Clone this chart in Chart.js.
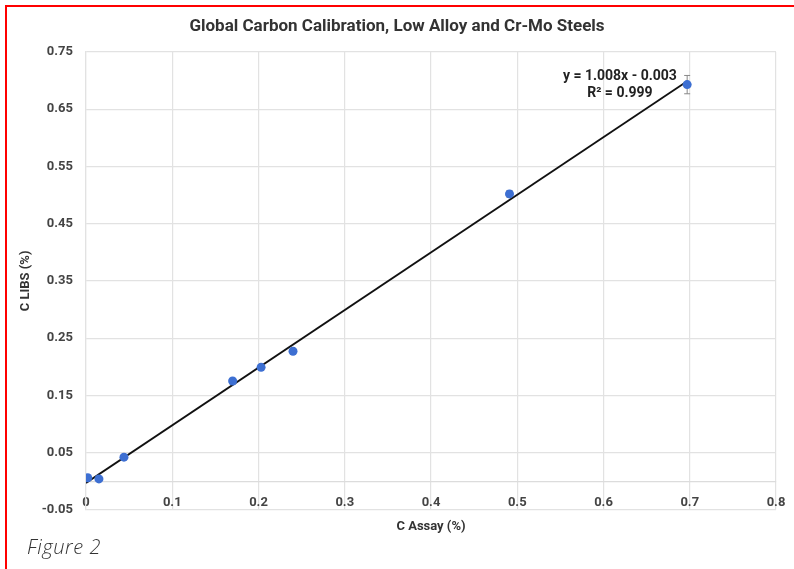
<!DOCTYPE html>
<html>
<head>
<meta charset="utf-8">
<script src="https://cdn.jsdelivr.net/npm/chart.js@4/dist/chart.umd.min.js"></script>
<style>
  html, body { margin: 0; padding: 0; background: #fff; width: 794px; height: 569px; overflow: hidden; }
  #frame { position: absolute; left: 5px; top: 5px; right: 0; bottom: -10px; border-left: 2px solid #ff0000; border-top: 2px solid #ff0000; }
  #wrap { position: absolute; left: 0; top: 0; width: 794px; height: 545px; }
  #caption { position: absolute; left: 27px; top: 537px; font-family: "Open Sans", Lato, sans-serif; font-style: italic; font-weight: 300; font-size: 20px; line-height: 20px; letter-spacing: 0.6px; color: #333; }
</style>
</head>
<body>
<div id="frame"></div>
<div id="wrap"><canvas id="carbonChart"></canvas></div>
<div id="caption">Figure 2</div>
<script>
// values
const assayC = [0.002, 0.015, 0.044, 0.170, 0.203, 0.240, 0.491, 0.697];
const libsC  = [0.006, 0.004, 0.042, 0.175, 0.199, 0.227, 0.502, 0.693];
const libsErr = [0, 0, 0, 0, 0.005, 0, 0.006, 0.016];
const trendX = [0, 0.697];
const trendY = [-0.003, 0.699];
const xTicks = [0, 0.1, 0.2, 0.3, 0.4, 0.5, 0.6, 0.7, 0.8];
const xTickLabels = ["0", "0.1", "0.2", "0.3", "0.4", "0.5", "0.6", "0.7", "0.8"];
const yTicks = [-0.05, 0.05, 0.15, 0.25, 0.35, 0.45, 0.55, 0.65, 0.75];
const yTickLabels = ["-0.05", "0.05", "0.15", "0.25", "0.35", "0.45", "0.55", "0.65", "0.75"];
const fitLabel = ["y = 1.008x - 0.003", "R\u00b2 = 0.999"];
const fitLabelAt = { x: 0.619, y: 0.708 };

const textColor = "#444";
const gridColor = "#e2e2e2";
const tickFont = { family: "Roboto", size: 13, weight: "bold" };
const titleFont = { family: "Roboto", size: 13, weight: "bold" };

const errorBars = {
  id: "errorBars",
  beforeDatasetsDraw(chart) {
    const { ctx, scales: { x, y } } = chart;
    ctx.save();
    ctx.strokeStyle = "#888";
    ctx.lineWidth = 1;
    libsErr.forEach((e, i) => {
      if (!e) return;
      const px = x.getPixelForValue(assayC[i]);
      const top = y.getPixelForValue(libsC[i] + e);
      const bot = y.getPixelForValue(libsC[i] - e);
      ctx.beginPath();
      ctx.moveTo(px, top); ctx.lineTo(px, bot);
      ctx.moveTo(px - 3, top); ctx.lineTo(px + 3, top);
      ctx.moveTo(px - 3, bot); ctx.lineTo(px + 3, bot);
      ctx.stroke();
    });
    ctx.restore();
  }
};

const fitText = {
  id: "fitText",
  afterDraw(chart) {
    const { ctx, scales: { x, y } } = chart;
    const cx = x.getPixelForValue(fitLabelAt.x);
    const cy = y.getPixelForValue(fitLabelAt.y);
    ctx.save();
    ctx.font = "bold 14px Roboto";
    ctx.fillStyle = "#222";
    ctx.textAlign = "center";
    ctx.textBaseline = "middle";
    fitLabel.forEach((t, i) => ctx.fillText(t, cx, cy + i * 17.4));
    ctx.restore();
  }
};

new Chart(document.getElementById("carbonChart"), {
  type: "scatter",
  data: {
    datasets: [
      {
        label: "C LIBS",
        data: assayC.map((v, i) => ({ x: v, y: libsC[i] })),
        backgroundColor: "#3d6fd2",
        borderWidth: 0,
        pointRadius: 4.5,
      },
      {
        type: "line",
        label: "Linear fit",
        data: trendX.map((v, i) => ({ x: v, y: trendY[i] })),
        borderColor: "#111",
        borderWidth: 1.8,
        pointRadius: 0,
        fill: false,
      },
    ],
  },
  options: {
    responsive: true,
    maintainAspectRatio: false,
    animation: false,
    layout: { padding: { left: 18, right: 18, top: 0, bottom: 0 } },
    plugins: {
      legend: { display: false },
      tooltip: { enabled: false },
      title: {
        display: true,
        text: "Global Carbon Calibration, Low Alloy and Cr-Mo Steels",
        color: "#333",
        font: { family: "Roboto", size: 17, weight: "bold" },
        padding: { top: 16.8, bottom: 14.8 },
      },
      subtitle: {
        display: true,
        position: "bottom",
        fullSize: false,
        text: "C Assay (%)",
        color: "#333",
        font: titleFont,
        padding: { top: 9.6, bottom: 10 },
      },
    },
    scales: {
      x: {
        type: "linear",
        position: { y: 0 },
        min: 0,
        max: 0.8,
        afterBuildTicks: (s) => { s.ticks = xTicks.map(v => ({ value: v })); },
        afterFit: (s) => { s.paddingLeft = 0; s.paddingRight = 0; },
        grid: { color: gridColor, lineWidth: 1.2, drawTicks: false },
        border: { color: "#dcdcdc", width: 1.2 },
        ticks: { padding: 14, color: textColor, font: tickFont, maxRotation: 0,
                 callback: (v, i) => xTickLabels[i] },
      },
      y: {
        type: "linear",
        position: "left",
        min: -0.05,
        max: 0.75,
        afterBuildTicks: (s) => { s.ticks = yTicks.map(v => ({ value: v })); },
        afterFit: (s) => { s.width = 68; },
        grid: { color: gridColor, lineWidth: 1.2, drawTicks: false },
        border: { color: gridColor, width: 1.2 },
        ticks: { padding: 13, color: textColor, font: tickFont,
                 callback: (v, i) => yTickLabels[i] },
        title: {
          display: true,
          text: "C LIBS (%)",
          color: "#333",
          font: titleFont,
          padding: { top: 0, bottom: 0 },
        },
      },
    },
  },
  plugins: [errorBars, fitText],
});
</script>
</body>
</html>
